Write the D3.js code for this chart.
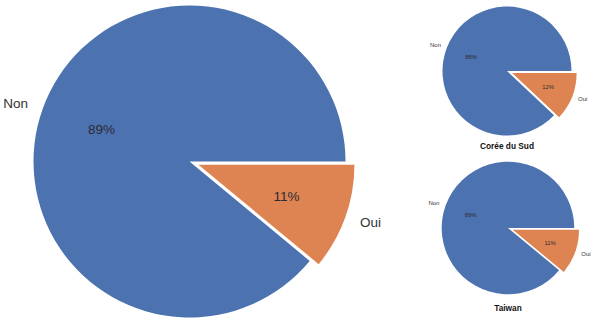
<!DOCTYPE html>
<html>
<head>
<meta charset="utf-8">
<script src="https://cdn.jsdelivr.net/npm/d3@7"></script>
<style>
  html, body { margin: 0; padding: 0; background: #fff; }
  svg { display: block; font-family: "Liberation Sans", Arial, sans-serif; }
</style>
</head>
<body>
<div id="chart"></div>
<script>
// data
const categories = ['Non', 'Oui'];
const pieTitles = ['', 'Corée du Sud', 'Taiwan'];
const nonValues = [89, 88, 89];
const ouiValues = [11, 12, 11];
const colors = ['#4C72B0', '#DD8452'];

// layout per pie (big one left, two small ones on the right)
const layout = [
  { cx: 189.5, cy: 161.5, r: 156, explode: 9.5, label: 13.5, pct: 13.5 },
  { cx: 507, cy: 71, r: 64.5, explode: 5.5, label: 6, pct: 5.8, titleY: 146 },
  { cx: 508, cy: 228, r: 66.3, explode: 5, label: 6, pct: 5.8, titleY: 308 }
];

const width = 595, height = 325;
const svg = d3.select('#chart').append('svg')
  .attr('width', width)
  .attr('height', height);

// matplotlib style: start at 3 o'clock, counterclockwise
const pie = d3.pie()
  .sort(null)
  .value(d => d.value)
  .startAngle(Math.PI / 2)
  .endAngle(Math.PI / 2 - 2 * Math.PI);

layout.forEach((L, i) => {
  const data = categories.map((c, j) => ({
    cat: c,
    value: j === 0 ? nonValues[i] : ouiValues[i]
  }));
  const arcs = pie(data);
  const g = svg.append('g').attr('transform', `translate(${L.cx},${L.cy})`);

  const arc = d3.arc().innerRadius(0).outerRadius(L.r);
  const unit = d => {
    const a = (d.startAngle + d.endAngle) / 2 - Math.PI / 2;
    return [Math.cos(a), Math.sin(a)];
  };
  // only 'Oui' is pulled out
  const offset = (d, k) => {
    const u = unit(d);
    const e = k === 1 ? L.explode : 0;
    return [u[0] * e, u[1] * e];
  };

  g.selectAll('path.slice')
    .data(arcs)
    .join('path')
      .attr('class', 'slice')
      .attr('d', arc)
      .attr('transform', (d, k) => `translate(${offset(d, k)})`)
      .attr('fill', (d, k) => colors[k]);

  // category labels at 1.1 r
  g.selectAll('text.cat')
    .data(arcs)
    .join('text')
      .attr('class', 'cat')
      .attr('x', (d, k) => offset(d, k)[0] + unit(d)[0] * L.r * 1.1)
      .attr('y', (d, k) => offset(d, k)[1] + unit(d)[1] * L.r * 1.1)
      .attr('text-anchor', d => unit(d)[0] > 0 ? 'start' : 'end')
      .attr('dominant-baseline', 'central')
      .style('font-size', L.label + 'px')
      .style('fill', '#333')
      .text(d => d.data.cat);

  // percentage labels at 0.6 r
  g.selectAll('text.pct')
    .data(arcs)
    .join('text')
      .attr('class', 'pct')
      .attr('x', (d, k) => offset(d, k)[0] + unit(d)[0] * L.r * 0.6)
      .attr('y', (d, k) => offset(d, k)[1] + unit(d)[1] * L.r * 0.6)
      .attr('text-anchor', 'middle')
      .attr('dominant-baseline', 'central')
      .style('font-size', L.pct + 'px')
      .style('fill', '#2b2b33')
      .text(d => Math.round(d.value) + '%');

  if (pieTitles[i]) {
    svg.append('text')
      .attr('x', L.cx)
      .attr('y', L.titleY)
      .attr('text-anchor', 'middle')
      .attr('dominant-baseline', 'central')
      .style('font-size', '8.3px')
      .style('font-weight', 'bold')
      .style('fill', '#111')
      .text(pieTitles[i]);
  }
});
</script>
</body>
</html>
